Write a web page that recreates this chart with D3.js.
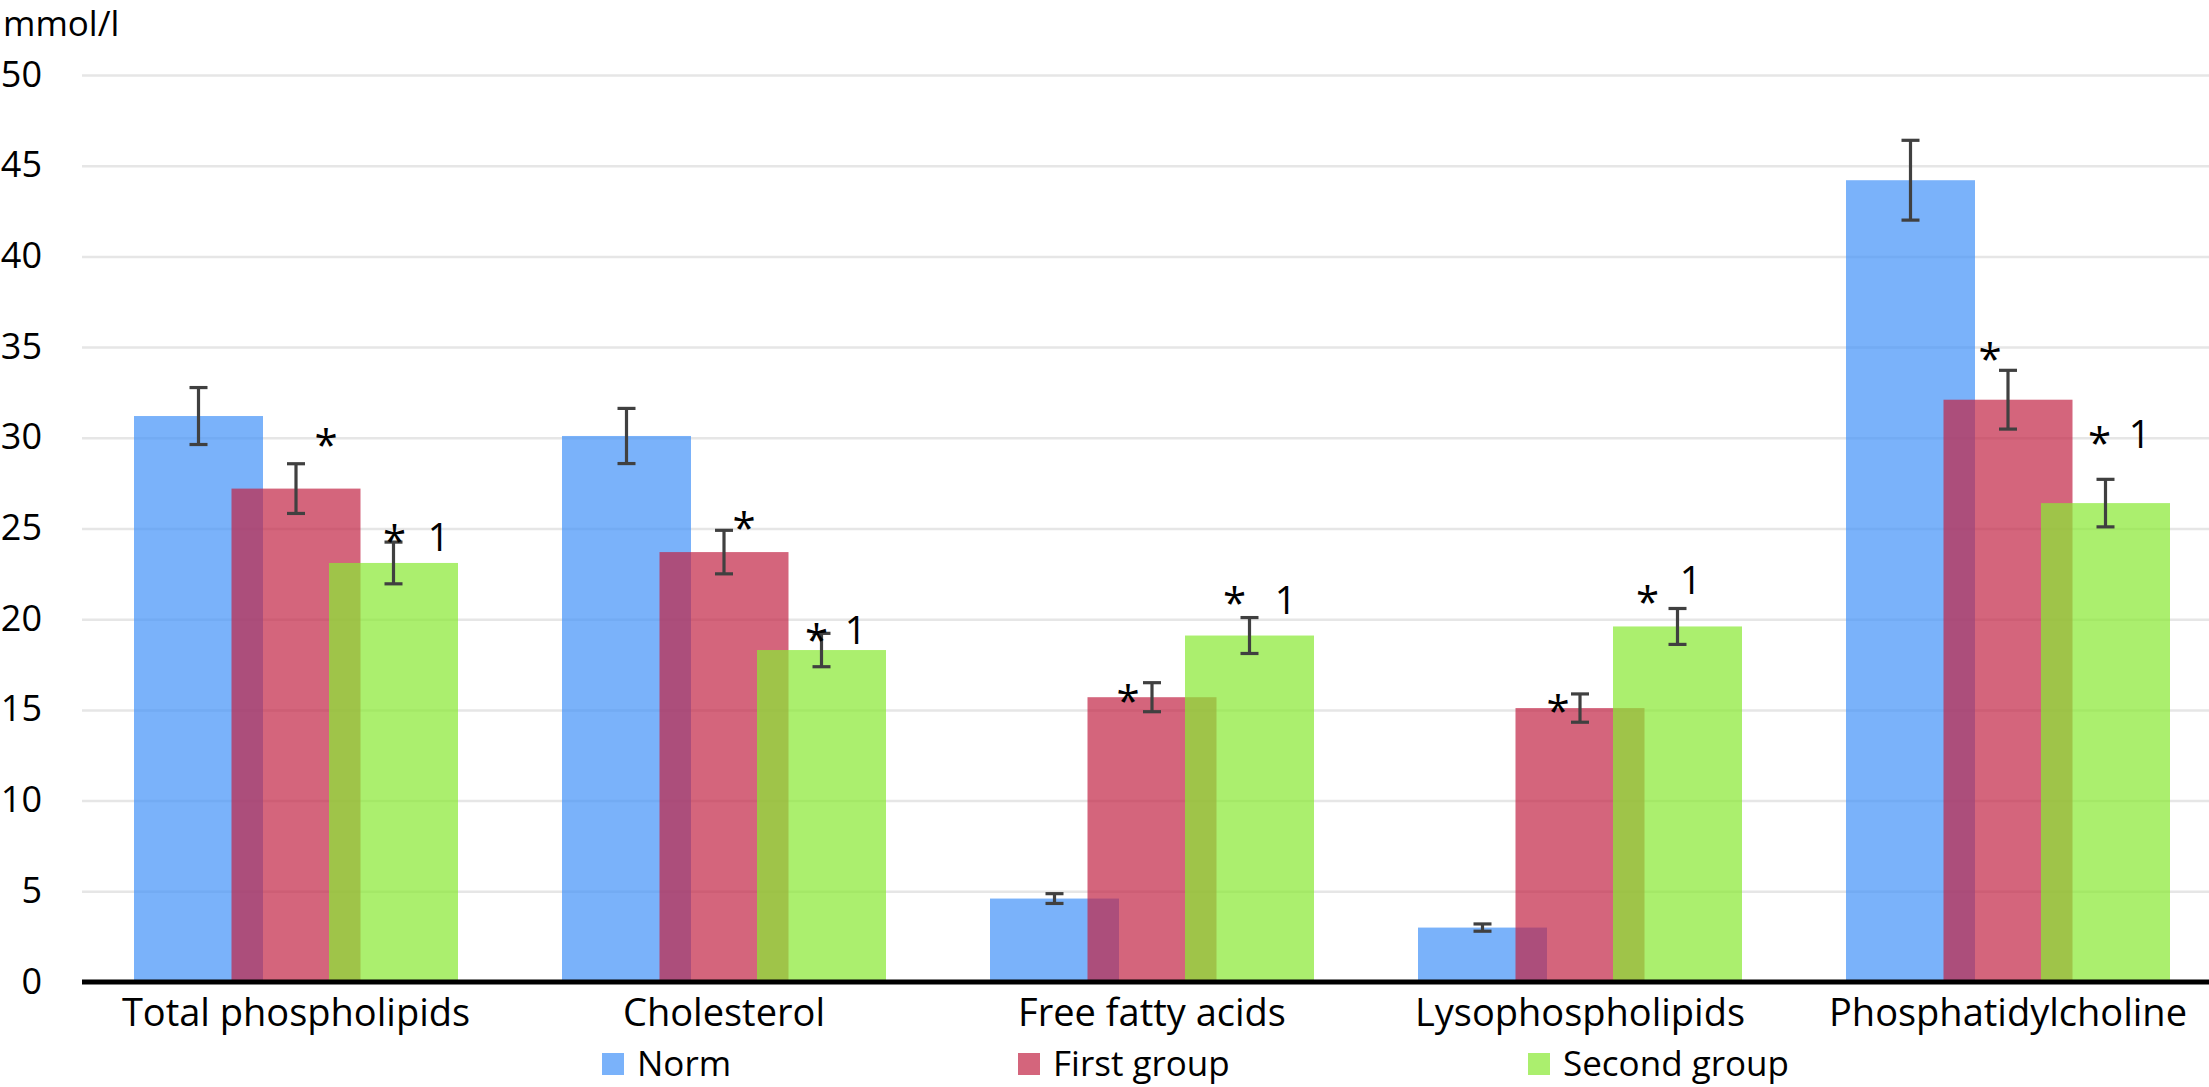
<!DOCTYPE html>
<html>
<head>
<meta charset="utf-8">
<script src="https://cdn.jsdelivr.net/npm/d3@7"></script>
<style>
  html, body { margin: 0; padding: 0; background: #fff; }
  svg { display: block; font-family: "Open Sans", sans-serif; }
</style>
</head>
<body>
<div id="chart"></div>
<script>
// values (mmol/l)
var categories = ["Total phospholipids", "Cholesterol", "Free fatty acids", "Lysophospholipids", "Phosphatidylcholine"];
var seriesNames = ["Norm", "First group", "Second group"];
var norm = [31.2, 30.1, 4.6, 3.0, 44.2];
var normErr = [1.57, 1.52, 0.27, 0.2, 2.2];
var firstGroup = [27.2, 23.7, 15.7, 15.1, 32.1];
var firstErr = [1.37, 1.2, 0.8, 0.78, 1.62];
var secondGroup = [23.1, 18.3, 19.1, 19.6, 26.4];
var secondErr = [1.15, 0.92, 0.99, 0.99, 1.31];
var firstMarks = ["*", "*", "*", "*", "*"];
var secondMarks = ["*", "*", "*", "*", "*"];
var secondLabels = ["1", "1", "1", "1", "1"];
var yTicks = [0, 5, 10, 15, 20, 25, 30, 35, 40, 45, 50];

var width = 2209, height = 1087;
var plotLeft = 82, plotRight = 2222, plotTop = 75, plotBottom = 982;
var barWidth = 129;

var colors = {"Norm": "rgb(65,146,248)", "First group": "rgb(194,36,68)", "Second group": "rgb(138,233,54)"};
var opacities = {"Norm": 0.7, "First group": 0.7, "Second group": 0.72};

// hand nudges for the significance marks, relative to the top of the error bar
var firstStarNudge = [[30, -25], [20, -8], [-24, 12], [-22, 11], [-18, -17]];
var secondStarNudge = [[1, -9], [-5, -1], [-15, -23], [-30, -14], [-6, -44]];
var secondLabelNudge = [[45, 9], [34, 11], [36, -4], [13, -14], [34, -31]];

var series = [
  {name: "Norm", values: norm, err: normErr},
  {name: "First group", values: firstGroup, err: firstErr},
  {name: "Second group", values: secondGroup, err: secondErr}
];

var svg = d3.select("#chart").append("svg")
  .attr("width", width)
  .attr("height", height);

var xScale = d3.scaleBand().domain(categories).range([plotLeft, plotRight]).padding(0);
var seriesScale = d3.scalePoint().domain(seriesNames).range([-97.5, 97.5]);
var yScale = d3.scaleLinear().domain([0, 50]).range([plotBottom, plotTop]);

function barCenter(cat, name) {
  return xScale(cat) + xScale.bandwidth() / 2 + seriesScale(name);
}

// gridlines + y labels
var yAxis = d3.axisLeft(yScale)
  .tickValues(yTicks)
  .tickSize(-(width - plotLeft))
  .tickPadding(40);

var gy = svg.append("g")
  .attr("class", "y axis")
  .attr("transform", "translate(" + plotLeft + ",0)")
  .call(yAxis);
gy.select(".domain").remove();
gy.selectAll(".tick line").attr("stroke", "#e6e6e6").attr("stroke-width", 2.5);
gy.selectAll(".tick text")
  .attr("x", 42 - plotLeft)
  .attr("dy", null)
  .attr("y", 11)
  .attr("fill", "#000")
  .style("font-size", "36px")
  .style("font-family", "Open Sans");

// bars
series.forEach(function(s) {
  svg.append("g").selectAll("rect")
    .data(categories)
    .enter()
    .append("rect")
    .attr("x", function(d) { return barCenter(d, s.name) - barWidth / 2; })
    .attr("y", function(d, i) { return yScale(s.values[i]); })
    .attr("width", barWidth)
    .attr("height", function(d, i) { return yScale(0) - yScale(s.values[i]); })
    .attr("fill", colors[s.name])
    .attr("fill-opacity", opacities[s.name]);
});

// error bars
series.forEach(function(s) {
  var g = svg.append("g").attr("stroke", "#404040").attr("stroke-width", 3.2);
  categories.forEach(function(c, i) {
    var cx = barCenter(c, s.name);
    var hi = yScale(s.values[i] + s.err[i]);
    var lo = yScale(s.values[i] - s.err[i]);
    g.append("line").attr("x1", cx).attr("x2", cx).attr("y1", hi).attr("y2", lo);
    g.append("line").attr("x1", cx - 9).attr("x2", cx + 9).attr("y1", hi).attr("y2", hi);
    g.append("line").attr("x1", cx - 9).attr("x2", cx + 9).attr("y1", lo).attr("y2", lo);
  });
});

// x axis line
svg.append("line")
  .attr("x1", plotLeft).attr("x2", width)
  .attr("y1", yScale(0)).attr("y2", yScale(0))
  .attr("stroke", "#000").attr("stroke-width", 5);

// category labels
svg.append("g").selectAll("text")
  .data(categories)
  .enter()
  .append("text")
  .attr("x", function(d) { return xScale(d) + xScale.bandwidth() / 2; })
  .attr("y", 1026)
  .attr("text-anchor", "middle")
  .style("font-size", "38px")
  .text(function(d) { return d; });

// significance marks
var marks = svg.append("g").style("font-size", "38px");
categories.forEach(function(c, i) {
  var x1 = barCenter(c, "First group");
  var top1 = yScale(firstGroup[i] + firstErr[i]);
  marks.append("text")
    .attr("x", x1 + firstStarNudge[i][0])
    .attr("y", top1 + firstStarNudge[i][1] + 21)
    .attr("text-anchor", "middle")
    .style("font-size", "42px")
    .text(firstMarks[i]);

  var x2 = barCenter(c, "Second group");
  var top2 = yScale(secondGroup[i] + secondErr[i]);
  marks.append("text")
    .attr("x", x2 + secondStarNudge[i][0])
    .attr("y", top2 + secondStarNudge[i][1] + 23)
    .attr("text-anchor", "middle")
    .style("font-size", "42px")
    .text(secondMarks[i]);
  marks.append("text")
    .attr("x", x2 + secondLabelNudge[i][0])
    .attr("y", top2 + secondLabelNudge[i][1])
    .attr("text-anchor", "middle")
    .text(secondLabels[i]);
});

// legend
var legendX = [602, 1018, 1528];
var legend = svg.append("g").selectAll("g")
  .data(seriesNames)
  .enter()
  .append("g")
  .attr("transform", function(d, i) { return "translate(" + legendX[i] + ",1053)"; });
legend.append("rect")
  .attr("width", 22).attr("height", 22)
  .attr("fill", function(d) { return colors[d]; })
  .attr("fill-opacity", function(d) { return opacities[d]; });
legend.append("text")
  .attr("x", 35).attr("y", 23)
  .style("font-size", "35px")
  .text(function(d) { return d; });

// unit label
svg.append("text")
  .attr("x", 3).attr("y", 36)
  .style("font-size", "35px")
  .text("mmol/l");
</script>
</body>
</html>
